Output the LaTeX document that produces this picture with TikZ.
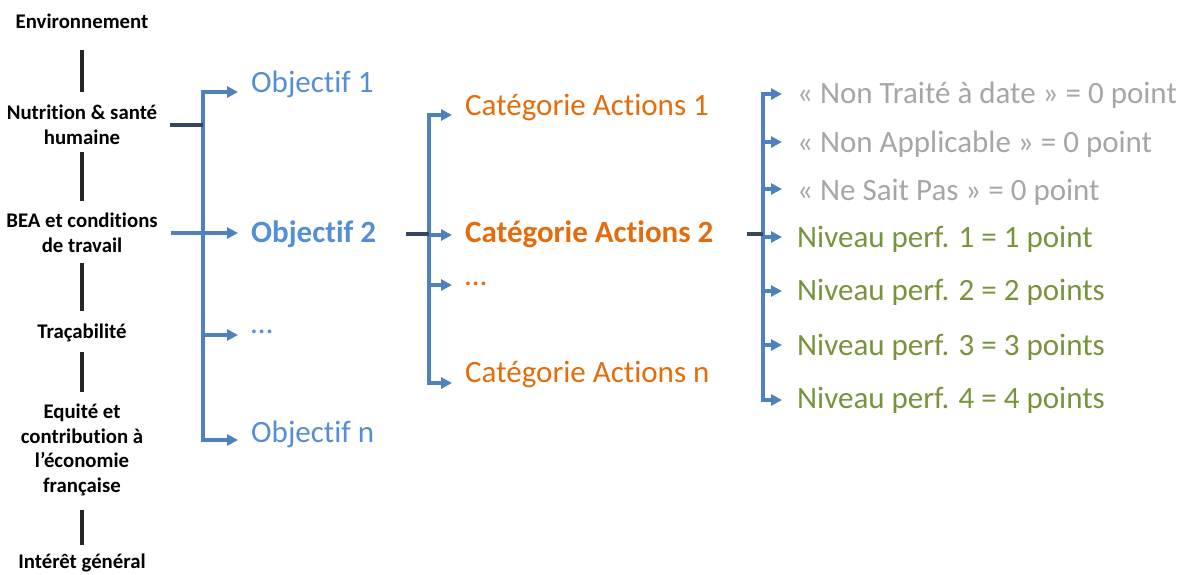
\documentclass[tikz,border=0pt]{standalone}
\usepackage{fontspec}
\setmainfont{Carlito}[Ligatures=NoCommon]
\usetikzlibrary{arrows.meta}

\definecolor{lineblue}{RGB}{79,129,189}
\definecolor{objblue}{RGB}{85,142,213}
\definecolor{catorange}{RGB}{228,108,10}
\definecolor{nagray}{RGB}{166,166,166}
\definecolor{lvlgreen}{RGB}{119,147,60}
\definecolor{bardark}{RGB}{38,38,38}
\definecolor{stubdark}{RGB}{55,70,92}

\begin{document}
\begin{tikzpicture}[x=1pt,y=-1pt,
  crit/.style={font=\fontsize{20.8}{24.5}\selectfont\bfseries, align=center, inner sep=0pt},
  leaf/.style={font=\fontsize{31}{36}\selectfont, anchor=base west, inner sep=0pt},
  sep/.style={draw=bardark, line width=4pt},
  trunk/.style={draw=lineblue, line width=3.8pt, line cap=rect},
  stub/.style={draw=stubdark, line width=3.8pt},
  arr/.style={draw=lineblue, line width=3.8pt, -{Triangle[length=11pt,width=11pt]}, shorten >=13pt}]
\useasboundingbox (0,0) rectangle (1186,574);

%%% CRITERES (left column)
\node[crit] (env) at (82,21) {Environnement};
\node[crit] (nut) at (82,125) {Nutrition \& santé\\humaine};
\node[crit] (bea) at (82,233) {BEA et conditions\\de travail};
\node[crit] (tra) at (82,333) {Traçabilité};
\node[crit] (equ) at (82,450) {Equité et\\contribution à\\l’économie\\française};
\node[crit] (int) at (82,563) {Intérêt général};

% separators between criteria
\foreach \ya/\yb in {50/92,152/201,263/311,352/392,510/545}
  \draw[sep] (82,\ya) -- (82,\yb);

%%% OBJECTIFS
\node[leaf, text=objblue] (o1) at (251,92) {Objectif 1};
\node[leaf, text=objblue] (o2) at (251,242) {\bfseries Objectif 2};
\node[leaf, text=objblue] (o3) at (251,333) {…};
\node[leaf, text=objblue] (o4) at (251,442) {Objectif n};

\coordinate (ta1) at (203,92);
\coordinate (ta2) at (203,440);
\draw[trunk] (ta1) -- (ta2);
\draw[stub, shorten <=13pt] (nut.east) -- (nut.east -| ta1);
\draw[trunk, line cap=butt, shorten <=13pt] (bea.east) -- (bea.east -| ta1);
\foreach \y/\n in {92/o1,233/o2,335/o3,440/o4}
  \draw[arr] (ta1 |- 0,\y) -- (\n.west |- 0,\y);

%%% CATEGORIES
\node[leaf, text=catorange] (c1) at (465,115) {Catégorie Actions 1};
\node[leaf, text=catorange] (c2) at (465,242) {\bfseries Catégorie Actions 2};
\node[leaf, text=catorange] (c3) at (465,285) {…};
\node[leaf, text=catorange] (c4) at (465,382) {Catégorie Actions n};

\coordinate (tb1) at (429,115);
\coordinate (tb2) at (429,383);
\draw[trunk] (tb1) -- (tb2);
\draw[stub, shorten <=30pt] (o2.east) -- (o2.east -| tb1);
\foreach \y/\n in {115/c1,235/c2,285/c3,383/c4}
  \draw[arr] (tb1 |- 0,\y) -- (\n.west |- 0,\y);

%%% NIVEAUX
\coordinate (tc1) at (763,94);
\coordinate (tc2) at (763,400);
\draw[trunk] (tc1) -- (tc2);
\foreach \ya/\yb/\txt/\col [count=\i] in {
  94/103/{« Non Traité à date » = 0 point}/nagray,
  142/152/{« Non Applicable » = 0 point}/nagray,
  189/200/{« Ne Sait Pas » = 0 point}/nagray,
  237/247/{Niveau perf. 1 = 1 point}/lvlgreen,
  291/300/{Niveau perf. 2 = 2 points}/lvlgreen,
  345/355/{Niveau perf. 3 = 3 points}/lvlgreen,
  400/408/{Niveau perf. 4 = 4 points}/lvlgreen}
{
  \node[leaf, text=\col] (n\i) at (797,\yb) {\txt};
  \draw[arr, shorten >=15pt] (tc1 |- 0,\ya) -- (n\i.west |- 0,\ya);
}
\draw[stub, shorten <=33pt] (c2.east) -- (c2.east -| tc1);
\end{tikzpicture}
\end{document}
